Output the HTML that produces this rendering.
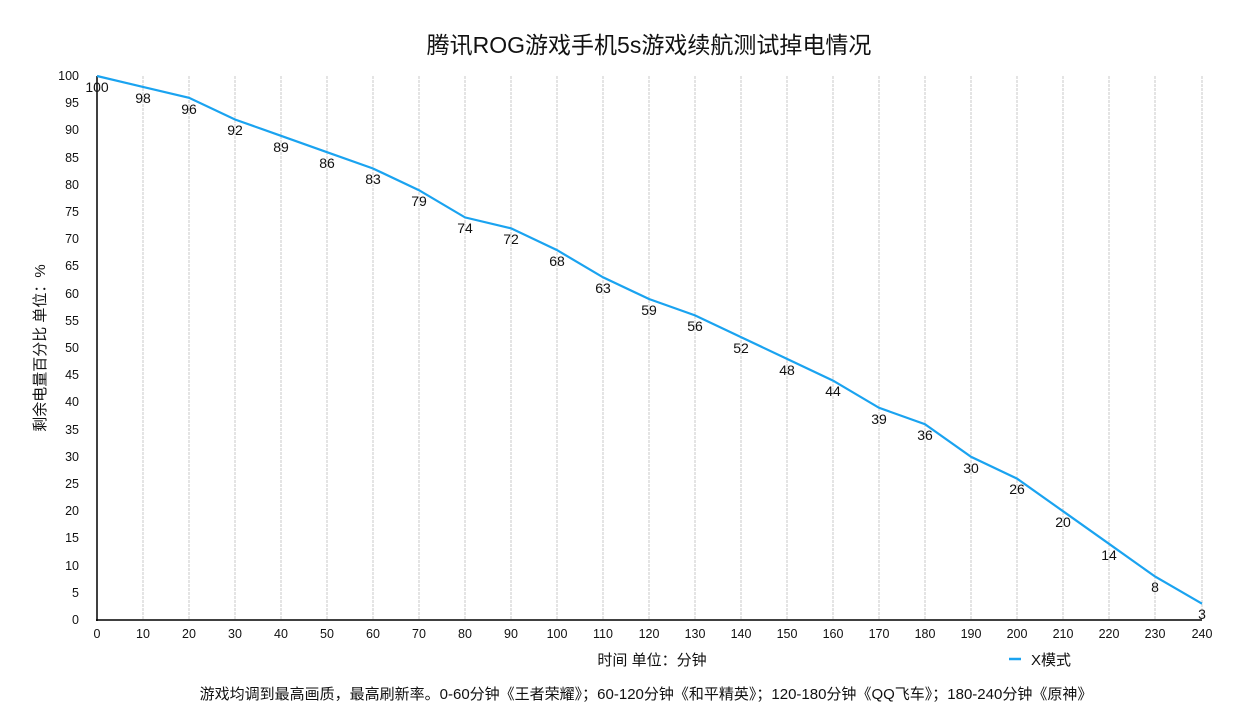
<!DOCTYPE html><html><head><meta charset="utf-8"><style>body{margin:0;background:#fff}svg{display:block;font-family:"Liberation Sans","Noto Sans CJK SC",sans-serif}</style></head><body>
<svg width="1244" height="721" viewBox="0 0 1244 721">
<text x="649" y="53" font-size="23" text-anchor="middle" fill="#111">腾讯ROG游戏手机5s游戏续航测试掉电情况</text>
<g stroke="#c8c8c8" stroke-width="1" stroke-dasharray="3,1">
<line x1="143" y1="76" x2="143" y2="620"/><line x1="189" y1="76" x2="189" y2="620"/><line x1="235" y1="76" x2="235" y2="620"/><line x1="281" y1="76" x2="281" y2="620"/><line x1="327" y1="76" x2="327" y2="620"/><line x1="373" y1="76" x2="373" y2="620"/><line x1="419" y1="76" x2="419" y2="620"/><line x1="465" y1="76" x2="465" y2="620"/><line x1="511" y1="76" x2="511" y2="620"/><line x1="557" y1="76" x2="557" y2="620"/><line x1="603" y1="76" x2="603" y2="620"/><line x1="649" y1="76" x2="649" y2="620"/><line x1="695" y1="76" x2="695" y2="620"/><line x1="741" y1="76" x2="741" y2="620"/><line x1="787" y1="76" x2="787" y2="620"/><line x1="833" y1="76" x2="833" y2="620"/><line x1="879" y1="76" x2="879" y2="620"/><line x1="925" y1="76" x2="925" y2="620"/><line x1="971" y1="76" x2="971" y2="620"/><line x1="1017" y1="76" x2="1017" y2="620"/><line x1="1063" y1="76" x2="1063" y2="620"/><line x1="1109" y1="76" x2="1109" y2="620"/><line x1="1155" y1="76" x2="1155" y2="620"/><line x1="1202" y1="76" x2="1202" y2="620"/>
</g>
<line x1="97" y1="76" x2="97" y2="621" stroke="#000" stroke-width="1.5"/>
<line x1="96" y1="620" x2="1202" y2="620" stroke="#000" stroke-width="1.5"/>
<g font-size="12.5" fill="#111" text-anchor="end">
<text x="79" y="624">0</text><text x="79" y="597">5</text><text x="79" y="570">10</text><text x="79" y="542">15</text><text x="79" y="515">20</text><text x="79" y="488">25</text><text x="79" y="461">30</text><text x="79" y="434">35</text><text x="79" y="406">40</text><text x="79" y="379">45</text><text x="79" y="352">50</text><text x="79" y="325">55</text><text x="79" y="298">60</text><text x="79" y="270">65</text><text x="79" y="243">70</text><text x="79" y="216">75</text><text x="79" y="189">80</text><text x="79" y="162">85</text><text x="79" y="134">90</text><text x="79" y="107">95</text><text x="79" y="80">100</text>
</g>
<g font-size="12.5" fill="#111" text-anchor="middle">
<text x="97" y="638">0</text><text x="143" y="638">10</text><text x="189" y="638">20</text><text x="235" y="638">30</text><text x="281" y="638">40</text><text x="327" y="638">50</text><text x="373" y="638">60</text><text x="419" y="638">70</text><text x="465" y="638">80</text><text x="511" y="638">90</text><text x="557" y="638">100</text><text x="603" y="638">110</text><text x="649" y="638">120</text><text x="695" y="638">130</text><text x="741" y="638">140</text><text x="787" y="638">150</text><text x="833" y="638">160</text><text x="879" y="638">170</text><text x="925" y="638">180</text><text x="971" y="638">190</text><text x="1017" y="638">200</text><text x="1063" y="638">210</text><text x="1109" y="638">220</text><text x="1155" y="638">230</text><text x="1202" y="638">240</text>
</g>
<polyline fill="none" stroke="#1aa3f0" stroke-width="2.2" points="97,76 143,86.9 189,97.8 235,119.5 281,135.8 327,152.2 373,168.5 419,190.2 465,217.4 511,228.3 557,250.1 603,277.3 649,299 695,315.4 741,337.1 787,358.9 833,380.6 879,407.8 925,424.2 971,456.8 1017,478.6 1063,511.2 1109,543.8 1155,576.5 1202,603.7"/>
<g font-size="14" fill="#111" text-anchor="middle">
<text x="97" y="92">100</text><text x="143" y="103">98</text><text x="189" y="114">96</text><text x="235" y="135">92</text><text x="281" y="152">89</text><text x="327" y="168">86</text><text x="373" y="184">83</text><text x="419" y="206">79</text><text x="465" y="233">74</text><text x="511" y="244">72</text><text x="557" y="266">68</text><text x="603" y="293">63</text><text x="649" y="315">59</text><text x="695" y="331">56</text><text x="741" y="353">52</text><text x="787" y="375">48</text><text x="833" y="396">44</text><text x="879" y="424">39</text><text x="925" y="440">36</text><text x="971" y="473">30</text><text x="1017" y="494">26</text><text x="1063" y="527">20</text><text x="1109" y="560">14</text><text x="1155" y="592">8</text><text x="1202" y="619">3</text>
</g>
<text x="652" y="665" font-size="15" text-anchor="middle" fill="#111">时间 单位：分钟</text>
<text transform="translate(45,348) rotate(-90)" font-size="15" text-anchor="middle" fill="#111">剩余电量百分比 单位：%</text>
<line x1="1009" y1="659" x2="1021" y2="659" stroke="#1aa3f0" stroke-width="2.5"/>
<text x="1031" y="665" font-size="15" fill="#111">X模式</text>
<text x="646" y="699" font-size="15" text-anchor="middle" fill="#111">游戏均调到最高画质，最高刷新率。0-60分钟《王者荣耀》；60-120分钟《和平精英》；120-180分钟《QQ飞车》；180-240分钟《原神》</text>
</svg></body></html>
